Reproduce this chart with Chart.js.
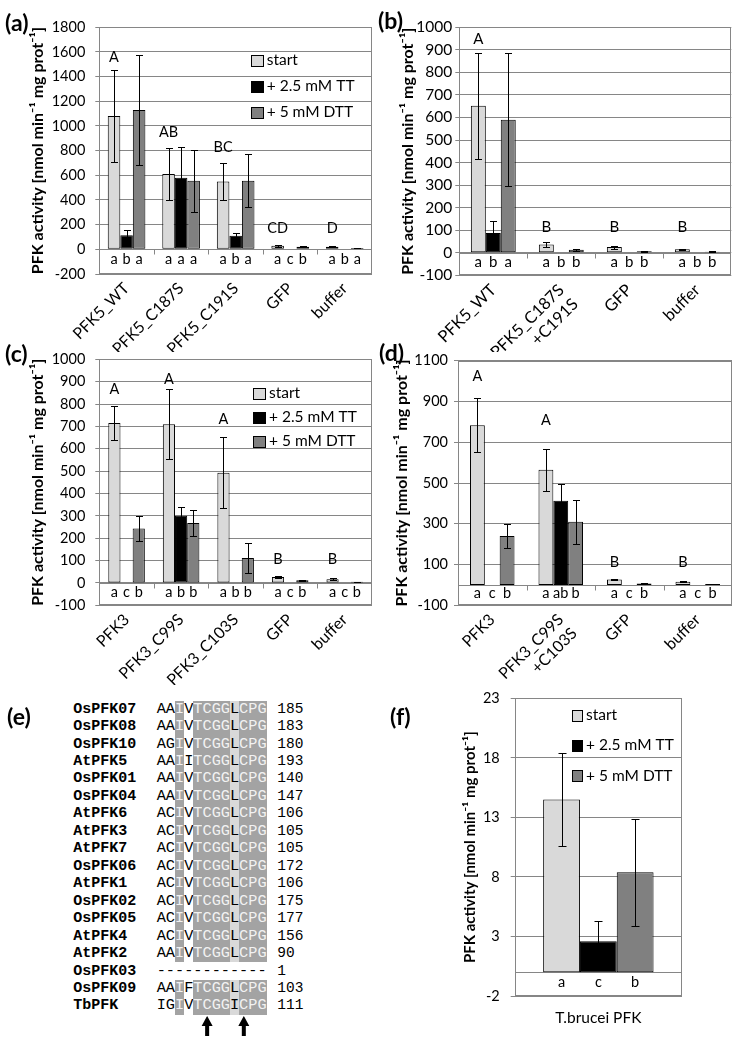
<!DOCTYPE html>
<html>
<head>
<meta charset="utf-8">
<script src="https://cdn.jsdelivr.net/npm/chart.js@4.4.1/dist/chart.umd.min.js"></script>
<style>
html,body{margin:0;padding:0;background:#fff;}
#page{position:relative;width:744px;height:1043px;overflow:hidden;font-family:Lato,'Open Sans',sans-serif;background:#fff;}
canvas.cv{position:absolute;}
.plabel{position:absolute;font-family:Lato,sans-serif;font-weight:bold;font-size:23px;line-height:23px;color:#000;}
.arow{position:absolute;left:0;height:17.46px;line-height:17.46px;white-space:pre;color:#000;}
.nm{position:absolute;left:73.3px;top:0;font-family:'Liberation Mono',monospace;font-weight:bold;font-size:15px;}
.sq{position:absolute;left:156.7px;top:0;font-family:'Liberation Mono',monospace;font-size:15.28px;display:flex;}
.sq span{display:block;width:9.17px;height:17.46px;text-align:center;}
.sq span.dk{background:#a3a3a3;color:#f2f2f2;}
.sq span.lt{background:#d9d9d9;color:#000;}
.num{position:absolute;left:277.3px;top:0;font-family:'Liberation Mono',monospace;font-size:14.5px;}
</style>
</head>
<body>
<div id="page">
  <canvas id="cA" class="cv" width="374" height="352" style="left:0;top:0"></canvas>
  <canvas id="cB" class="cv" width="372" height="352" style="left:372px;top:0"></canvas>
  <canvas id="cC" class="cv" width="374" height="355" style="left:0;top:330px"></canvas>
  <canvas id="cD" class="cv" width="372" height="355" style="left:372px;top:330px"></canvas>
  <canvas id="cF" class="cv" width="372" height="383" style="left:372px;top:660px"></canvas>
  <div id="align"></div>
  <svg id="arrows" style="position:absolute;left:0;top:0" width="744" height="1043"></svg>
  <div class="plabel" style="left:5px;top:11px">(a)</div>
  <div class="plabel" style="left:378px;top:9px">(b)</div>
  <div class="plabel" style="left:5px;top:342px">(c)</div>
  <div class="plabel" style="left:379px;top:341px">(d)</div>
  <div class="plabel" style="left:7px;top:705px">(e)</div>
  <div class="plabel" style="left:390px;top:705px">(f)</div>
</div>
<script>
// ---------------- DATA ----------------
const seriesLabels = ['start', '+ 2.5 mM TT', '+ 5 mM DTT'];
const yAxisTitle = 'PFK activity [nmol min\u207B\u00B9 mg prot\u207B\u00B9]';

// (a)
const catsA = ['PFK5_WT', 'PFK5_C187S', 'PFK5_C191S', 'GFP', 'buffer'];
const startA = [1080, 610, 550, 30, 20];
const startErrA = [375, 212, 152, 8, 4];
const ttA = [115, 580, 110, 0, 4];
const ttErrA = [40, 250, 25, 0, 0];
const dttA = [1130, 555, 555, 20, 10];
const dttErrA = [445, 252, 215, 5, 3];
const groupLettersA = ['A', 'AB', 'BC', 'CD', 'D'];
const groupLetterValA = [1553, 945, 824, 170, 170];
const barLettersA = [['a','b','a'], ['a','a','a'], ['a','b','a'], ['a','c','b'], ['a','b','a']];
const yTicksA = [-200, 1800, 200];

// (b)
const catsB = ['PFK5_WT', ['PFK5_C187S', '+C191S'], 'GFP', 'buffer'];
const startB = [652, 37, 25, 15];
const startErrB = [234, 12, 7, 3];
const ttB = [88, 0, 0, 0];
const ttErrB = [52, 0, 0, 0];
const dttB = [590, 13, 7, 5];
const dttErrB = [295, 4, 2, 2];
const groupLettersB = ['A', 'B', 'B', 'B'];
const groupLetterValB = [948, 112, 112, 112];
const barLettersB = [['a','b','a'], ['a','b','b'], ['a','b','b'], ['a','b','b']];
const yTicksB = [-100, 1000, 100];

// (c)
const catsC = ['PFK3', 'PFK3_C99S', 'PFK3_C103S', 'GFP', 'buffer'];
const startC = [715, 710, 493, 27, 17];
const startErrC = [75, 155, 158, 4, 3];
const ttC = [0, 300, 0, 0, 0];
const ttErrC = [0, 38, 0, 0, 0];
const dttC = [243, 268, 112, 12, 5];
const dttErrC = [55, 58, 66, 2, 1];
const groupLettersC = ['A', 'A', 'A', 'B', 'B'];
const groupLetterValC = [865, 909, 730, 107, 107];
const barLettersC = [['a','c','b'], ['a','b','b'], ['a','b','b'], ['a','c','b'], ['a','c','b']];
const yTicksC = [-100, 1000, 100];

// (d)
const catsD = ['PFK3', ['PFK3_C99S', '+C103S'], 'GFP', 'buffer'];
const startD = [783, 565, 27, 15];
const startErrD = [133, 103, 3, 3];
const ttD = [0, 413, 0, 0];
const ttErrD = [0, 82, 0, 0];
const dttD = [240, 310, 7, 5];
const dttErrD = [57, 107, 2, 1];
const groupLettersD = ['A', 'A', 'B', 'B'];
const groupLetterValD = [1022, 807, 113, 113];
const barLettersD = [['a','c','b'], ['a','ab','b'], ['a','c','b'], ['a','c','b']];
const yTicksD = [-100, 1100, 200];

// (f)
const catsF = ['T.brucei PFK'];
const startF = [14.5];
const startErrF = [3.9];
const ttF = [2.6];
const ttErrF = [1.7];
const dttF = [8.4];
const dttErrF = [4.5];
const barLettersF = [['a','c','b']];
const yTicksF = [-2, 23, 5];

// (e) alignment
const alignNames = ['OsPFK07','OsPFK08','OsPFK10','AtPFK5','OsPFK01','OsPFK04','AtPFK6','AtPFK3','AtPFK7','OsPFK06','AtPFK1','OsPFK02','OsPFK05','AtPFK4','AtPFK2','OsPFK03','OsPFK09','TbPFK'];
const alignSeqs = ['AAIVTCGGLCPG','AAIVTCGGLCPG','AGIVTCGGLCPG','AAIITCGGLCPG','AAIVTCGGLCPG','AAIVTCGGLCPG','ACIVTCGGLCPG','ACIVTCGGLCPG','ACIVTCGGLCPG','ACIVTCGGLCPG','ACIVTCGGLCPG','ACIVTCGGLCPG','ACIVTCGGLCPG','ACIVTCGGLCPG','AAIVTCGGLCPG','------------','AAIFTCGGLCPG','IGIVTCGGICPG'];
const alignEnds = [185,183,180,193,140,147,106,105,105,172,106,175,177,156,90,1,103,111];
const darkCols = [2, 4, 5, 6, 7, 9, 10, 11];
const lightCols = [8];
const arrowCols = [5, 9];

// ---------------- STYLE ----------------
const FONT = 'Lato, "Open Sans", sans-serif';
const GRID = '#868686';
const COLORS = ['#d9d9d9', '#000000', '#808080'];

function makeExtras(p) {
  return {
    id: 'extras',
    beforeDatasetsDraw(chart) {
      const {ctx, chartArea: ca} = chart;
      const x = chart.scales.x, y = chart.scales.y;
      ctx.save();
      ctx.strokeStyle = GRID; ctx.lineWidth = 1;
      const L = Math.round(ca.left) + 0.5, R = Math.round(ca.right) - 0.5;
      const T = Math.round(ca.top) + 0.5, B = Math.round(ca.bottom) - 0.5;
      ctx.strokeRect(L, T, R - L, B - T);
      const y0 = Math.round(y.getPixelForValue(0)) + 0.5;
      ctx.beginPath();
      ctx.moveTo(L, y0); ctx.lineTo(R, y0);
      const n = x.ticks.length;
      for (let i = 1; i < n; i++) {
        const xb = Math.round((x.getPixelForTick(i - 1) + x.getPixelForTick(i)) / 2) + 0.5;
        ctx.moveTo(xb, y0); ctx.lineTo(xb, y0 + 5);
      }
      ctx.stroke();
      ctx.restore();
    },
    afterDatasetsDraw(chart) {
      const {ctx, chartArea: ca} = chart;
      const y = chart.scales.y;
      ctx.save();
      // error bars
      ctx.strokeStyle = '#000'; ctx.lineWidth = 1;
      chart.data.datasets.forEach((ds, di) => {
        const meta = chart.getDatasetMeta(di);
        meta.data.forEach((bar, i) => {
          const e = ds.errors[i];
          if (!e) return;
          const v = ds.data[i];
          const xc = Math.round(bar.x) + 0.5;
          const yt = Math.round(y.getPixelForValue(v + e)) + 0.5;
          const yb = Math.round(y.getPixelForValue(v - e)) + 0.5;
          ctx.beginPath();
          ctx.moveTo(xc, yt); ctx.lineTo(xc, yb);
          ctx.moveTo(xc - p.cap, yt); ctx.lineTo(xc + p.cap, yt);
          ctx.moveTo(xc - p.cap, yb); ctx.lineTo(xc + p.cap, yb);
          ctx.stroke();
        });
      });
      // letters
      ctx.fillStyle = '#000';
      ctx.font = p.letterFont + 'px ' + FONT;
      ctx.textAlign = 'center'; ctx.textBaseline = 'middle';
      const y0 = y.getPixelForValue(0);
      const yl = (y0 + ca.bottom) / 2 - 2;
      (p.barLetters || []).forEach((grp, i) => {
        grp.forEach((t, di) => {
          const bar = chart.getDatasetMeta(di).data[i];
          ctx.fillText(t, bar.x, yl);
        });
      });
      (p.groupLetters || []).forEach((t, i) => {
        const bar = chart.getDatasetMeta(0).data[i];
        ctx.fillText(t, bar.x, y.getPixelForValue(p.groupLetterVal[i]));
      });
      // legend
      if (p.legend) {
        const lg = p.legend;
        ctx.textAlign = 'left';
        ctx.font = lg.font + 'px ' + FONT;
        chart.data.datasets.forEach((ds, k) => {
          const cy = lg.y + k * lg.dy;
          ctx.fillStyle = ds.backgroundColor;
          ctx.fillRect(Math.round(lg.x) + 0.5, Math.round(cy - lg.bh / 2) + 0.5, lg.bw, lg.bh);
          ctx.strokeStyle = '#000';
          ctx.strokeRect(Math.round(lg.x) + 0.5, Math.round(cy - lg.bh / 2) + 0.5, lg.bw, lg.bh);
          ctx.fillStyle = '#000';
          ctx.fillText(ds.label, lg.x + lg.bw + 4, cy);
        });
      }
      ctx.restore();
    }
  };
}

function buildChart(id, p) {
  const vals = [p.start, p.tt, p.dtt];
  const errs = [p.startErr, p.ttErr, p.dttErr];
  const datasets = vals.map((v, k) => ({
    label: seriesLabels[k], data: v, errors: errs[k],
    backgroundColor: COLORS[k], borderColor: '#000', borderWidth: 1, borderSkipped: false,
    categoryPercentage: p.catPct, barPercentage: 1.0
  }));
  return new Chart(document.getElementById(id), {
    type: 'bar',
    data: { labels: p.labels, datasets },
    options: {
      responsive: false, animation: false, events: [],
      layout: { padding: { left: 0, top: p.area.top, right: p.w - p.area.right, bottom: 0 } },
      plugins: { legend: { display: false }, tooltip: { enabled: false } },
      scales: {
        x: {
          grid: { display: false, drawTicks: false }, border: { display: false },
          ticks: { autoSkip: false, maxRotation: p.rot, minRotation: p.rot, padding: p.xPad,
                   color: '#000', font: { family: FONT, size: p.xFont } },
          afterFit: (s) => { s.height = p.h - p.area.bottom; }
        },
        y: {
          min: p.ticks[0], max: p.ticks[1],
          grid: { color: GRID, lineWidth: 1, drawTicks: true, tickLength: 4 },
          border: { display: false },
          ticks: { stepSize: p.ticks[2], padding: p.yPad, color: '#000',
                   font: { family: FONT, size: p.yFont }, callback: (v) => String(v) },
          title: { display: true, text: yAxisTitle, color: '#000',
                   font: { family: FONT, size: p.titleSize, weight: 'bold' },
                   padding: { top: p.titlePad, bottom: 0 } },
          afterFit: (s) => { s.width = p.area.left; }
        }
      }
    },
    plugins: [makeExtras(p)]
  });
}

buildChart('cA', {
  labels: catsA, start: startA, startErr: startErrA, tt: ttA, ttErr: ttErrA, dtt: dttA, dttErr: dttErrA,
  groupLetters: groupLettersA, groupLetterVal: groupLetterValA, barLetters: barLettersA, ticks: yTicksA,
  w: 374, h: 352, area: { left: 99.3, top: 27.3, right: 372, bottom: 274 },
  catPct: 0.69, rot: 45, xPad: 5, xFont: 16, yFont: 14.5, yPad: 10, titleSize: 16, titlePad: 28.7,
  cap: 3.5, letterFont: 14.5,
  legend: { x: 250.7, y: 60, dy: 26, bw: 12, bh: 11, font: 15.5 }
});
buildChart('cB', {
  labels: catsB, start: startB, startErr: startErrB, tt: ttB, ttErr: ttErrB, dtt: dttB, dttErr: dttErrB,
  groupLetters: groupLettersB, groupLetterVal: groupLetterValB, barLetters: barLettersB, ticks: yTicksB,
  w: 372, h: 352, area: { left: 87.3, top: 27.3, right: 359.3, bottom: 275.3 },
  catPct: 0.66, rot: 45, xPad: 5, xFont: 16.5, yFont: 15.5, yPad: 3, titleSize: 16, titlePad: 26.2,
  cap: 3.5, letterFont: 15
});
buildChart('cC', {
  labels: catsC, start: startC, startErr: startErrC, tt: ttC, ttErr: ttErrC, dtt: dttC, dttErr: dttErrC,
  groupLetters: groupLettersC, groupLetterVal: groupLetterValC, barLetters: barLettersC, ticks: yTicksC,
  w: 374, h: 355, area: { left: 99.3, top: 29.3, right: 372, bottom: 275.3 },
  catPct: 0.67, rot: 45, xPad: 5, xFont: 16, yFont: 14.5, yPad: 10, titleSize: 16, titlePad: 28.7,
  cap: 3.5, letterFont: 14.5,
  legend: { x: 253, y: 63.3, dy: 24, bw: 12, bh: 11, font: 15.5 }
});
buildChart('cD', {
  labels: catsD, start: startD, startErr: startErrD, tt: ttD, ttErr: ttErrD, dtt: dttD, dttErr: dttErrD,
  groupLetters: groupLettersD, groupLetterVal: groupLetterValD, barLetters: barLettersD, ticks: yTicksD,
  w: 372, h: 355, area: { left: 86, top: 30.7, right: 360, bottom: 275.3 },
  catPct: 0.65, rot: 45, xPad: 5, xFont: 16, yFont: 14.5, yPad: 6, titleSize: 16, titlePad: 20.4,
  cap: 3.5, letterFont: 14.5
});
buildChart('cF', {
  labels: catsF, start: startF, startErr: startErrF, tt: ttF, ttErr: ttErrF, dtt: dttF, dttErr: dttErrF,
  barLetters: barLettersF, ticks: yTicksF,
  w: 372, h: 383, area: { left: 142.7, top: 38.3, right: 310, bottom: 336 },
  catPct: 0.66, rot: 0, xPad: 13, xFont: 15.5, yFont: 14.5, yPad: 11, titleSize: 15, titlePad: 88.8,
  cap: 4, letterFont: 14.5,
  legend: { x: 200, y: 55, dy: 30.3, bw: 10, bh: 11, font: 15.5 }
});

// ---------------- (e) alignment ----------------
(function () {
  const host = document.getElementById('align');
  const top0 = 700.6, rh = 17.46;
  alignNames.forEach((nm, r) => {
    const row = document.createElement('div');
    row.className = 'arow';
    row.style.top = (top0 + r * rh) + 'px';
    const a = document.createElement('span'); a.className = 'nm'; a.textContent = nm; row.appendChild(a);
    const s = document.createElement('span'); s.className = 'sq';
    const seq = alignSeqs[r];
    const gap = /^-+$/.test(seq);
    seq.split('').forEach((ch, c) => {
      const sp = document.createElement('span');
      sp.textContent = ch;
      if (!gap && darkCols.includes(c)) sp.className = 'dk';
      if (!gap && lightCols.includes(c)) sp.className = 'lt';
      s.appendChild(sp);
    });
    row.appendChild(s);
    const n = document.createElement('span'); n.className = 'num'; n.textContent = String(alignEnds[r]); row.appendChild(n);
    host.appendChild(row);
  });
  const svg = document.getElementById('arrows');
  const yTop = top0 + alignNames.length * rh;
  arrowCols.forEach((c) => {
    const cx = 156.7 + (c + 0.5) * 9.17;
    const poly = document.createElementNS('http://www.w3.org/2000/svg', 'polygon');
    const pts = [[cx, yTop + 1], [cx + 5.5, yTop + 11], [cx + 2, yTop + 11], [cx + 2, yTop + 21],
                 [cx - 2, yTop + 21], [cx - 2, yTop + 11], [cx - 5.5, yTop + 11]];
    poly.setAttribute('points', pts.map(p => p.join(',')).join(' '));
    poly.setAttribute('fill', '#000');
    svg.appendChild(poly);
  });
})();
</script>
</body>
</html>
